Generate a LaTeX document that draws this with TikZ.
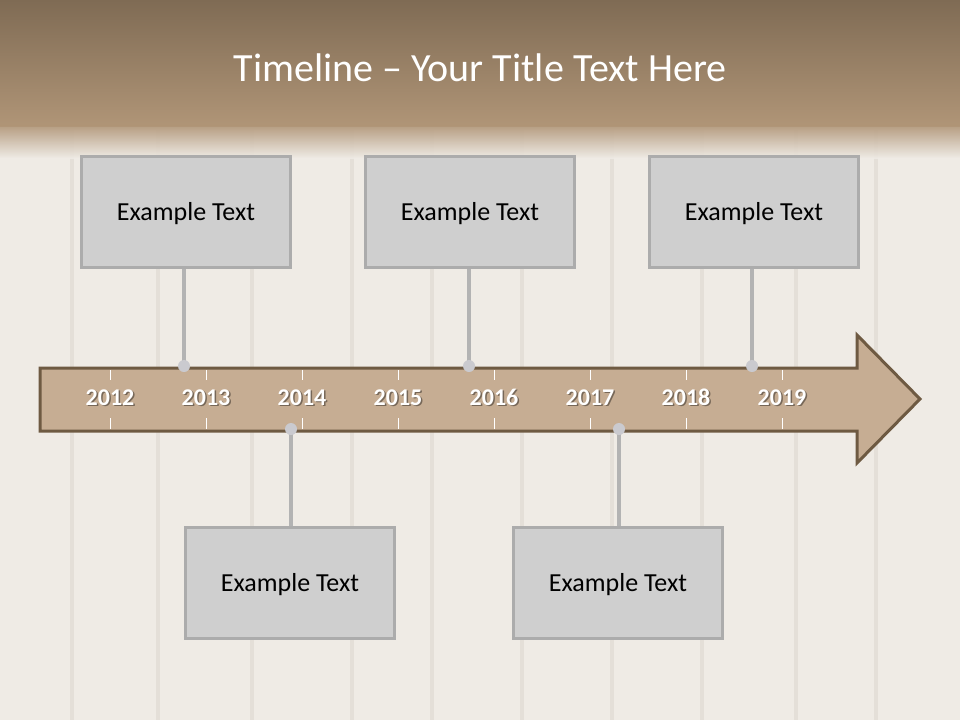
\documentclass[tikz,border=0pt]{standalone}
\usepackage{fontspec}
\setmainfont{Carlito}
\begin{document}
\begin{tikzpicture}[x=1pt,y=-1pt,
  box/.style={draw=boxline,fill=boxfill,line width=3pt,minimum width=209pt,minimum height=111pt,inner sep=0pt,font=\fontsize{26}{30}\selectfont,text=black,text height=19pt,text depth=2pt},
  conn/.style={draw=connline,line width=4pt},
  dot/.style={circle,fill=dotfill,minimum size=12pt,inner sep=0pt},
  year/.style={font=\bfseries\fontsize{24}{28}\selectfont,text=white,anchor=base},
  yshadow/.style={font=\bfseries\fontsize{24}{28}\selectfont,text=black,opacity=0.4,anchor=base},
  tick/.style={draw=white,line width=1pt},
  plank/.style={draw=plankc,line width=4pt}]
\definecolor{bg}{HTML}{EFEBE5}
\definecolor{plankc}{HTML}{E4DFD8}
\definecolor{hdtop}{HTML}{7F6B54}
\definecolor{hdbot}{HTML}{B09577}
\definecolor{boxfill}{HTML}{CFCFCF}
\definecolor{boxline}{HTML}{ACACAC}
\definecolor{connline}{HTML}{B3B3B3}
\definecolor{dotfill}{HTML}{CACACF}
\definecolor{arrfill}{HTML}{C6AD93}
\definecolor{arrline}{HTML}{6E5A42}
\useasboundingbox (0,0) rectangle (960,720);
% background
\fill[bg] (0,0) rectangle (960,720);
\foreach \px in {72,158,252,352,432,522,612,702,796,876}
  \draw[plank] (\px,130) -- (\px,720);
% header
\shade[top color=hdtop,bottom color=hdbot] (0,0) rectangle (960,126);
\shade[top color=hdbot,bottom color=bg,opacity=0.9] (0,125.5) rectangle (960,158);
\node[font=\fontsize{40}{46}\selectfont,text=white] (title) at (480,68) {Timeline – Your Title Text Here};
% arrow
\draw[fill=arrfill,draw=arrline,line width=3pt,line join=miter]
  (40,368) -- (857,368) -- (857,335) -- (920,399) -- (857,463) -- (857,431) -- (40,431) -- cycle;
% ticks and years
\foreach \yr [count=\i from 0] in {2012,2013,2014,2015,2016,2017,2018,2019} {
  \pgfmathsetmacro{\xx}{110+96*\i}
  \draw[tick] (\xx,370) -- (\xx,380);
  \draw[tick] (\xx,418) -- (\xx,429);
  \node[yshadow] at (\xx+1.5,406.5) {\yr};
  \node[year] (y\yr) at (\xx,405) {\yr};
}
% boxes
\node[box] (b1) at (186,212) {Example Text};
\node[box] (b2) at (470,212) {Example Text};
\node[box] (b3) at (754,212) {Example Text};
\node[box] (b4) at (290,583) {Example Text};
\node[box] (b5) at (618,583) {Example Text};
% connectors
\coordinate (d1) at (184,366);
\coordinate (d2) at (469,366);
\coordinate (d3) at (752,366);
\coordinate (d4) at (291,429);
\coordinate (d5) at (619,429);
\draw[conn] (b1.south -| d1) -- (d1);
\draw[conn] (b2.south -| d2) -- (d2);
\draw[conn] (b3.south -| d3) -- (d3);
\draw[conn] (b4.north -| d4) -- (d4);
\draw[conn] (b5.north -| d5) -- (d5);
\foreach \d in {d1,d2,d3,d4,d5}
  \node[dot] at (\d) {};
\end{tikzpicture}
\end{document}
